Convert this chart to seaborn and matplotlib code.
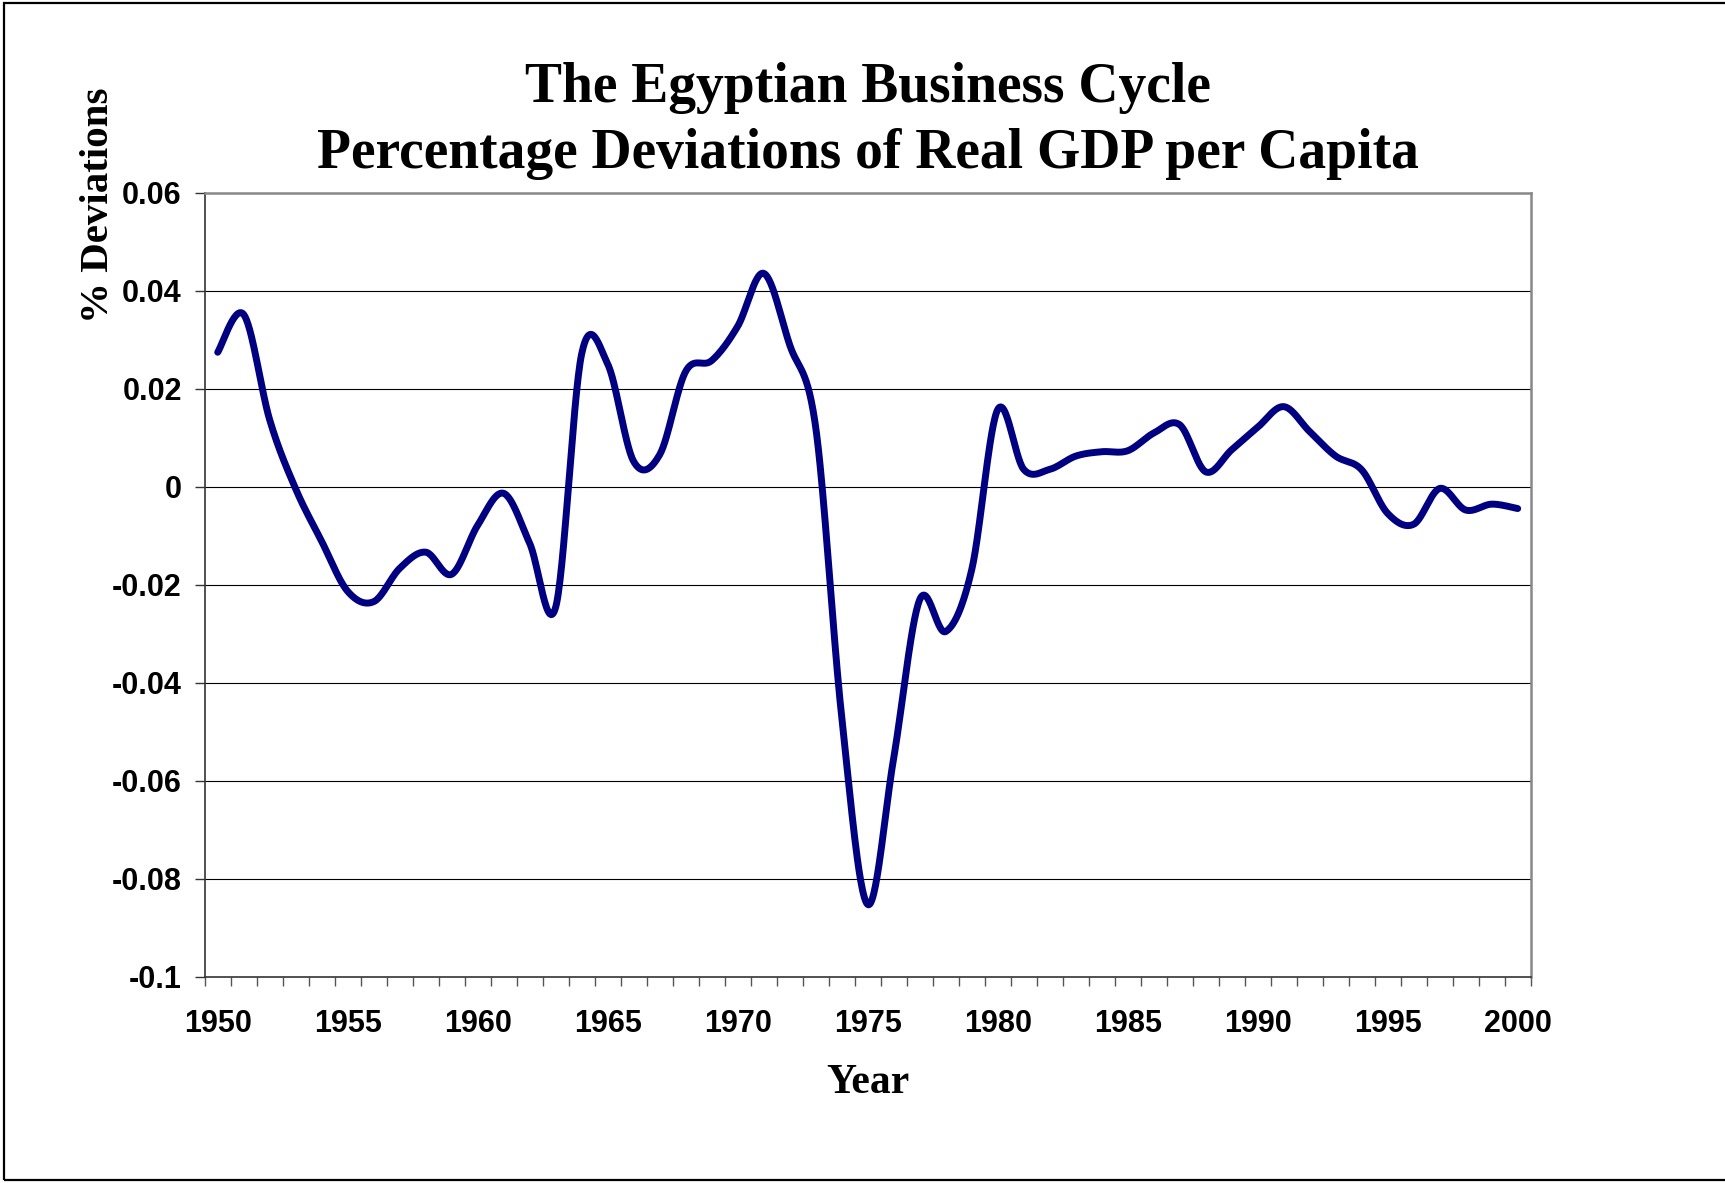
import numpy as np
import pandas as pd
import matplotlib
matplotlib.use("Agg")
import matplotlib.pyplot as plt
import seaborn as sns
from matplotlib.patches import Rectangle
from matplotlib.ticker import FixedLocator, FuncFormatter

# ---- data ----
years = list(range(1950, 2001))
deviation = [
    0.0275, 0.0352, 0.0137, -0.0004, -0.0111, -0.0213, -0.0234, -0.0166, -0.0133, -0.0178,
    -0.0078, -0.0013, -0.0115, -0.0245, 0.0272, 0.0251, 0.0052, 0.0066, 0.0236, 0.0258,
    0.0328, 0.0436, 0.0290, 0.0122, -0.0469, -0.0852, -0.0553, -0.0230, -0.0295, -0.0169,
    0.0158, 0.0036, 0.0036, 0.0063, 0.0072, 0.0074, 0.0110, 0.0127, 0.0031, 0.0076,
    0.0122, 0.0164, 0.0113, 0.0063, 0.0035, -0.0054, -0.0076, -0.0003, -0.0047, -0.0035,
    -0.0044,
]
y_ticks = [0.06, 0.04, 0.02, 0, -0.02, -0.04, -0.06, -0.08, -0.1]
y_tick_labels = ["0.06", "0.04", "0.02", "0", "-0.02", "-0.04", "-0.06", "-0.08", "-0.1"]
x_label_years = [1950, 1955, 1960, 1965, 1970, 1975, 1980, 1985, 1990, 1995, 2000]

title_1 = "The Egyptian Business Cycle"
title_2 = "Percentage Deviations of Real GDP per Capita"
x_title = "Year"
y_title = "% Deviations"


# Excel-style smoothed line (Bezier through points, tension 1/6)
def smooth_curve(xs, ys, n=30):
    P = np.column_stack([xs, ys]).astype(float)
    Pe = np.vstack([P[0], P, P[-1]])
    out = []
    for i in range(1, len(Pe) - 2):
        p0, p1, p2, p3 = Pe[i - 1], Pe[i], Pe[i + 1], Pe[i + 2]
        b1 = p1 + (p2 - p0) / 6.0
        b2 = p2 - (p3 - p1) / 6.0
        t = np.linspace(0, 1, n, endpoint=(i == len(Pe) - 3))[:, None]
        seg = ((1 - t) ** 3) * p1 + 3 * ((1 - t) ** 2) * t * b1 + 3 * (1 - t) * t ** 2 * b2 + t ** 3 * p2
        out.append(seg)
    out = np.vstack(out)
    return out[:, 0], out[:, 1]


sx, sy = smooth_curve(years, deviation)
df = pd.DataFrame({"Year": sx, "Deviation": sy})

sns.set_theme(style="white")
plt.rcParams["font.family"] = ["Liberation Sans", "DejaVu Sans"]
plt.rcParams["text.color"] = "black"
plt.rcParams["xtick.labelcolor"] = "black"
plt.rcParams["ytick.labelcolor"] = "black"

W, H = 1725, 1183
fig = plt.figure(figsize=(W / 100, H / 100), dpi=100)
fig.patch.set_facecolor("white")

left, right, top, bottom = 204.7, 1530.7, 193, 977
ax = fig.add_axes([left / W, 1 - bottom / H, (right - left) / W, (bottom - top) / H])
ax.set_facecolor("white")

sns.lineplot(data=df, x="Year", y="Deviation", sort=False, estimator=None,
             color="#000080", linewidth=5.0, ax=ax, solid_capstyle="round")

ax.set_xlim(1949.5, 2000.5)
ax.set_ylim(-0.1, 0.06)

for v in [0.04, 0.02, 0, -0.02, -0.04, -0.06, -0.08]:
    ax.axhline(v, color="black", linewidth=0.8, zorder=0)

# y ticks
ax.set_yticks(y_ticks)
ax.set_yticklabels(y_tick_labels, fontsize=22, fontweight="bold", color="black")
ax.tick_params(axis="y", which="major", direction="out", length=7.5, width=1,
               color="#333333", pad=9, left=True)

# x ticks: labels at category centers, tick marks between categories
ax.xaxis.set_major_locator(FixedLocator(x_label_years))
ax.xaxis.set_major_formatter(FuncFormatter(lambda v, p: f"{int(round(v))}"))
ax.xaxis.set_minor_locator(FixedLocator([y - 0.5 for y in years] + [2000.5]))
ax.tick_params(axis="x", which="major", length=0, pad=23, labelsize=22)
ax.tick_params(axis="x", which="minor", direction="out", length=6.5, width=1,
               color="#555555", bottom=True)
for lab in ax.get_xticklabels():
    lab.set_fontweight("bold")
    lab.set_color("black")

ax.set_xlabel("")
ax.set_ylabel("")

for side in ["left", "bottom"]:
    ax.spines[side].set_color("#333333")
    ax.spines[side].set_linewidth(1.2)
for side in ["top", "right"]:
    ax.spines[side].set_color("#888888")
    ax.spines[side].set_linewidth(1.8)
    ax.spines[side].set_visible(True)

serif = ["Liberation Serif", "DejaVu Serif"]
cx = (left + right) / 2 / W
fig.text(cx, 1 - 102 / H, title_1, ha="center", va="baseline",
         fontsize=40, fontweight="bold", family=serif, color="black")
fig.text(cx, 1 - 168 / H, title_2, ha="center",
         va="baseline", fontsize=40, fontweight="bold", family=serif, color="black")
fig.text(cx, 1 - 1083 / H, x_title, ha="center", va="center", fontsize=30,
         fontweight="bold", family=serif, color="black")
fig.text(98 / W, 1 - 205 / H, y_title, ha="center", va="center", rotation=90,
         fontsize=29.5, fontweight="bold", family=serif, color="black")

# outer chart border
fig.patches.append(Rectangle((4 / W, 1 - 1180 / H), 1.1, (1180 - 3) / H,
                             transform=fig.transFigure, fill=False,
                             edgecolor="black", linewidth=1.6))

fig.savefig("out.png", dpi=100, facecolor="white")
